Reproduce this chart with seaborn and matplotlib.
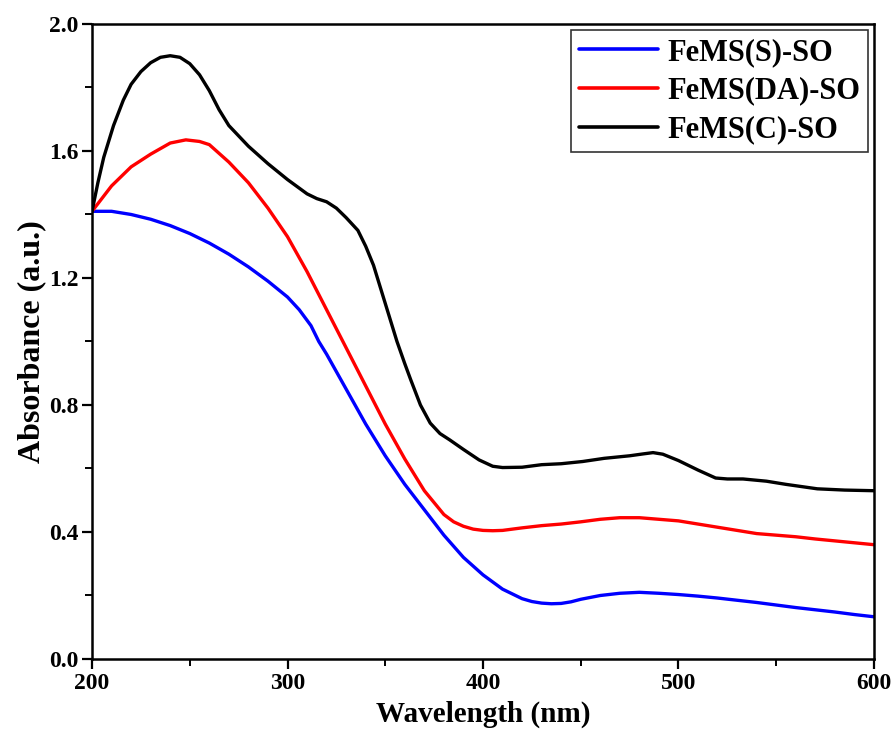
import numpy as np
import pandas as pd
import matplotlib
matplotlib.use("Agg")
import matplotlib.pyplot as plt
import seaborn as sns
from matplotlib.ticker import MultipleLocator, FormatStrFormatter

# UV-Vis absorbance spectra of the three samples
wl_s = [200, 205, 210, 215, 220, 230, 240, 250, 260, 270, 280, 290, 300, 306,
        312, 316, 320, 330, 340, 350, 360, 370, 380, 390, 400, 410, 420, 425,
        430, 435, 440, 445, 450, 460, 470, 480, 490, 500, 510, 520, 530, 540,
        550, 560, 570, 580, 590, 600]
abs_s = [1.41, 1.41, 1.41, 1.405, 1.40, 1.385, 1.365, 1.34, 1.31, 1.275, 1.235,
         1.19, 1.14, 1.10, 1.05, 1.00, 0.96, 0.85, 0.74, 0.64, 0.55, 0.47,
         0.39, 0.32, 0.265, 0.22, 0.19, 0.181, 0.176, 0.174, 0.175, 0.18,
         0.188, 0.20, 0.207, 0.21, 0.207, 0.203, 0.198, 0.192, 0.185, 0.178,
         0.17, 0.162, 0.155, 0.148, 0.14, 0.133]

wl_da = [200, 205, 210, 215, 220, 230, 240, 248, 255, 260, 270, 280, 290, 300,
         310, 320, 330, 340, 350, 360, 370, 380, 385, 390, 395, 400, 405, 410,
         420, 430, 440, 450, 460, 470, 480, 490, 500, 510, 520, 530, 540, 550,
         560, 570, 580, 590, 600]
abs_da = [1.41, 1.45, 1.49, 1.52, 1.55, 1.59, 1.625, 1.635, 1.63, 1.62, 1.565,
          1.50, 1.42, 1.33, 1.22, 1.10, 0.98, 0.86, 0.74, 0.63, 0.53, 0.455,
          0.432, 0.418, 0.409, 0.405, 0.404, 0.405, 0.413, 0.42, 0.425, 0.432,
          0.44, 0.445, 0.445, 0.44, 0.435, 0.425, 0.415, 0.405, 0.395, 0.39,
          0.385, 0.378, 0.372, 0.366, 0.36]

wl_c = [200, 203, 206, 211, 216, 220, 225, 230, 235, 240, 245, 250, 255, 260,
        265, 270, 280, 290, 300, 310, 315, 320, 325, 330, 336, 340, 344, 348,
        352, 356, 360, 363, 368, 373, 378, 383, 390, 398, 405, 410, 420, 430,
        440, 451, 462, 475, 482, 487, 492, 500, 510, 519, 525, 533, 545, 555,
        571, 585, 600]
abs_c = [1.41, 1.50, 1.58, 1.68, 1.76, 1.81, 1.85, 1.878, 1.895, 1.90, 1.895,
         1.875, 1.84, 1.79, 1.73, 1.68, 1.615, 1.56, 1.51, 1.465, 1.45, 1.44,
         1.42, 1.39, 1.35, 1.30, 1.24, 1.16, 1.08, 1.00, 0.93, 0.88, 0.80,
         0.743, 0.71, 0.69, 0.66, 0.627, 0.607, 0.603, 0.604, 0.612, 0.615,
         0.622, 0.632, 0.64, 0.646, 0.65, 0.645, 0.625, 0.595, 0.57, 0.567,
         0.567, 0.56, 0.55, 0.536, 0.532, 0.53]

labels = ["FeMS(S)-SO", "FeMS(DA)-SO", "FeMS(C)-SO"]
colors = ["#0000ff", "#ff0000", "#000000"]

df = pd.concat([
    pd.DataFrame({"wl": wl_s, "A": abs_s, "sample": labels[0]}),
    pd.DataFrame({"wl": wl_da, "A": abs_da, "sample": labels[1]}),
    pd.DataFrame({"wl": wl_c, "A": abs_c, "sample": labels[2]}),
], ignore_index=True)

sns.set_theme(style="ticks")
plt.rcParams["font.family"] = ["Liberation Serif", "DejaVu Serif"]
plt.rcParams["font.weight"] = "bold"
plt.rcParams["text.color"] = "black"
plt.rcParams["axes.labelcolor"] = "black"

fig = plt.figure(figsize=(8.96, 7.31), dpi=100)
ax = fig.add_axes([0.1027, 0.0985, 0.8727, 0.8687])

sns.lineplot(data=df, x="wl", y="A", hue="sample", hue_order=labels,
             palette=colors, estimator=None, sort=True, lw=2.4, ax=ax)

ax.set_xlim(200, 600)
ax.set_ylim(0, 2.0)
ax.xaxis.set_major_locator(MultipleLocator(100))
ax.xaxis.set_minor_locator(MultipleLocator(50))
ax.yaxis.set_major_locator(MultipleLocator(0.4))
ax.yaxis.set_minor_locator(MultipleLocator(0.2))
ax.yaxis.set_major_formatter(FormatStrFormatter("%.1f"))

for s in ax.spines.values():
    s.set_linewidth(1.8)
    s.set_color("black")
ax.tick_params(which="major", direction="out", length=7, width=1.6,
               labelsize=17, colors="black", pad=3)
ax.tick_params(which="minor", direction="out", length=5, width=1.4,
               colors="black")
for t in ax.get_xticklabels() + ax.get_yticklabels():
    t.set_fontweight("bold")

ax.set_xlabel("Wavelength (nm)", fontsize=21, fontweight="bold",
              labelpad=5, color="black")
ax.set_ylabel("Absorbance (a.u.)", fontsize=23, fontweight="bold",
              labelpad=2, color="black")

leg = ax.legend(loc="upper right", fontsize=22, frameon=True, fancybox=False,
                edgecolor="black", handlelength=2.6, labelspacing=0.32,
                borderaxespad=0.2, borderpad=0.25, handletextpad=0.3)
leg.get_frame().set_linewidth(1.2)
for line in leg.get_lines():
    line.set_linewidth(2.6)
for t in leg.get_texts():
    t.set_fontweight("bold")
    t.set_color("black")

fig.savefig("out.png", dpi=100)
